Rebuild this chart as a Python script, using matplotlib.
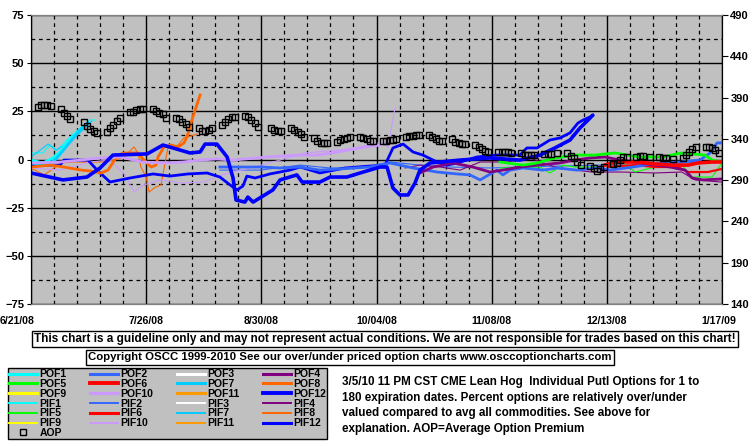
import matplotlib
matplotlib.use('Agg')
import matplotlib.pyplot as plt
import matplotlib.transforms as mtransforms
import numpy as np
import pandas as pd

# x axis: days after 6/21/08
tick_days = [0, 35, 70, 105, 140, 175, 210]
tick_labels = ['6/21/08', '7/26/08', '8/30/08', '10/04/08', '11/08/08', '12/13/08', '1/17/09']
start = pd.Timestamp('2008-06-21')

# average option premium (right axis), one value per trading day
holidays = ['2008-07-04', '2008-09-01', '2008-11-27', '2008-12-25', '2009-01-01']
aop_dates = pd.bdate_range('2008-06-23', '2009-01-16', freq='C', holidays=holidays)
aop = [379, 381, 381, 381, 380, 376, 371, 368, 364,
       360, 356, 352, 350, 347, 348, 353, 357, 362, 365,
       372, 372, 375, 376, 376, 376, 374, 371, 370, 365,
       365, 364, 360, 358, 354, 353, 350, 350, 351, 353,
       357, 360, 364, 366, 366, 368, 366, 363, 359, 354,
       353, 351, 350, 350, 353, 351, 348, 346, 342,
       341, 337, 335, 335, 335, 336, 339, 340, 341, 342,
       342, 341, 340, 337, 337, 337, 337, 339, 339, 340,
       342, 344, 344, 345, 345, 345, 342, 340, 337, 337,
       340, 336, 335, 334, 334, 333, 330, 328, 325, 324,
       324, 324, 324, 324, 323, 323, 320, 320, 320, 320,
       322, 322, 322, 323, 323, 319, 317, 312, 308, 307,
       305, 301, 304, 306, 310, 311, 314, 318, 318,
       318, 319, 319, 318, 318, 317, 317, 316, 317,
       320, 324, 328, 330, 330, 330, 329, 327, 323]

# percent over/under series (left axis): day, value
pof1_x = [0, 3.6, 6.7, 8.8, 10.9, 14, 16.4]
pof1_y = [-0.3, -1.8, 0.8, 3.9, 8.6, 13.8, 17.9]
pif1_x = [0, 3.6, 5.8, 7.9, 10.9, 14.9, 17.9, 19.5]
pif1_y = [3.4, 3.4, 7.5, 4.9, 10.1, 16.3, 20.5, 20.5]

pof2_x = [57.4, 70.2, 75.7, 81.8, 87.8, 93.9, 103, 109.1, 116.1, 123.4, 129.5, 133.4, 136.5, 138,
          141.6, 143.4, 145.6, 149.5, 155.6, 159.9, 165.9, 172, 176, 183, 189, 197.2, 203.3, 206.4, 208.5, 210]
pof2_y = [-3.9, -3.9, -4.4, -3.9, -5.5, -4.9, -3.9, -1.8, -4.4, -6.5, -7.5, -8.0, -10.6, -9.1,
          -5.5, -8.0, -5.5, -4.4, -5.5, -4.4, -5.5, -4.4, -5.5, -3.9, -2.3, -1.3, -0.3, 3.4, 8.6, 8.6]
pif2_x = [57.4, 69.6, 81.8, 90.9, 100, 109.1, 118.2, 127.3, 139.5, 148.6, 160.8, 172.9, 185.1, 197.2, 210]
pif2_y = [-5.5, -5.5, -2.9, -4.4, -4.4, -1.3, -2.9, -3.9, -4.4, -3.9, -3.4, -2.9, -2.9, -1.8, -1.3]

pof4_x = [118.2, 122.2, 128.2, 134.3, 139.5, 143.4, 148.6, 153.8, 160.8, 165.3, 169.9, 174.4, 179,
          185.1, 189.6, 194.2, 198.8, 200.9, 204.2, 210]
pof4_y = [-7.0, -3.9, -1.8, -3.9, -6.5, -5.5, -3.9, -2.9, -1.8, -0.3, 0.8, 1.3, -0.3,
          -1.8, -2.9, -3.9, -5.5, -9.6, -10.6, -10.1]
pif4_x = [113.7, 118.2, 124.3, 130.4, 136.5, 144.7, 151.6, 159.2, 165.3, 170.5, 179.6, 189.6, 197.8, 201.8, 210]
pif4_y = [-4.4, -2.9, -3.9, -5.5, -1.3, -1.3, 0.8, -3.9, -5.5, -6.5, -6.5, -7.0, -6.5, -10.6, -11.7]

pof5_x = [142.5, 149.5, 153.8, 159.2, 165.3, 171.4, 177.5, 184.5, 191.8, 197.8, 204.8, 207, 210]
pof5_y = [-1.3, -2.9, -1.8, 0.8, 2.3, 2.3, 3.4, 1.3, 1.3, 3.4, 2.3, -0.3, -1.3]
pif5_x = [142.5, 154.7, 157.7, 161.7, 165.3, 172.3, 179.6, 183.6, 189.6, 197.8, 200.9, 207, 210]
pif5_y = [-4.4, -3.9, -7.0, -2.9, -3.9, -3.9, -1.3, -6.5, -3.9, -2.9, -9.1, -9.1, -1.8]

pof6_x = [174.4, 176.6, 179.6, 184.5, 189.6, 194.8, 199.7, 202.7, 207, 210]
pof6_y = [-2.9, -1.8, -1.3, -1.3, -2.3, -2.9, -2.9, -1.8, -1.3, -1.3]
pif6_x = [175.4, 179, 183.6, 189.6, 196.6, 199.7, 205.7, 210]
pif6_y = [-3.9, -3.4, -2.9, -3.9, -3.9, -6.5, -6.5, -4.9]

pof7_x = [0, 4.3, 7.3, 9.4, 11.9, 14.9, 17.3]
pof7_y = [-1.8, -2.9, -0.3, 3.9, 9.1, 15.3, 18.9]
pif7_x = [0, 5.2, 7.6, 10.3, 13.4, 16.4, 18.5]
pif7_y = [1.3, 8.0, 4.9, 7.5, 11.7, 16.3, 20.0]

pof8_x = [0, 6.1, 10, 15.2, 18.2, 21.3, 23.4, 26.4, 28.3, 32.5, 34.3, 36.5, 38, 38.6, 40.4, 42.5,
          44.7, 46.5, 47.4, 49.2, 51.4]
pof8_y = [-3.9, -2.9, -3.9, -5.5, -6.0, -7.0, -5.5, 2.3, 3.4, 3.4, -0.3, -3.9, -2.9, 1.3, 6.5, 7.5,
          6.5, 8.6, 11.7, 22.1, 33.5]
pif8_x = [0, 4, 7, 9.1, 13.1, 21, 25.2, 28.3, 31.3, 32.5, 33.4, 35, 35.9, 37.4, 39.5, 41.6, 44.7,
          46.5, 48.6, 50.4]
pif8_y = [-4.4, -8.0, -4.4, -1.8, -1.3, -1.3, -0.3, 1.3, 6.5, 3.4, -3.9, -9.1, -16.9, -14.8, -13.2,
          6.0, 7.5, 11.2, 12.2, 13.2]

pof10_x = [0, 8.8, 14.9, 21, 27, 34, 41.3, 46.2, 51.4, 56.5, 61.4, 71.7, 81.8, 86.9, 93.3, 101.5, 106.1]
pof10_y = [-1.8, -1.3, -0.3, 0.8, 1.3, -1.3, -1.8, -1.3, -0.3, 0.3, -0.3, 1.3, 2.3, 2.3, 3.9, 6.5, 7.5]
pif10_x = [0, 8.8, 17.9, 24, 28.6, 31.3, 34.3, 39.5, 45.6, 52.6, 58, 66.6, 75.7, 83.3, 93.3, 98.5,
           105.5, 107.6, 108.5, 110.6]
pif10_y = [-4.4, -5.5, -1.3, -0.3, -8.0, -16.9, -13.2, -10.6, -12.2, -11.7, -8.0, -4.4, -0.3, 3.4, 4.9,
           6.0, 8.6, 9.1, 6.0, 26.7]

pof12_x = [0, 9.7, 17, 21, 24.9, 35.3, 40.1, 45.3, 48.3, 51.4, 52.9, 56.5, 59.6, 61.4, 62.3, 65, 65.9,
           67.5, 73.5, 75.7, 80.8, 82.4, 87.8, 90.9, 96, 100, 106.1, 108.2, 110, 112.1, 114.6, 116.7,
           118.2, 121.3, 130.4, 139.5, 148.6, 154.7, 159.2, 163.8, 166.8, 169.3, 170.5]
pof12_y = [-7.0, -10.6, -9.1, -4.4, 2.3, 2.9, 7.5, 4.9, 3.4, 3.9, 8.0, 8.0, 1.3, -9.6, -21.0, -22.1, -19.5,
           -22.1, -15.8, -10.6, -8.0, -11.7, -11.7, -9.1, -9.1, -7.0, -3.9, -3.9, -14.8, -18.4, -18.4, -12.2,
           -5.5, -1.8, -0.3, 0.8, -0.3, 2.3, 6.0, 10.1, 16.3, 20.5, 22.6]
pif12_x = [0, 8.8, 10, 17.3, 20.1, 24, 30.1, 37.1, 42.2, 47.7, 53.5, 57.4, 60.5, 62.6, 64.4, 65.6,
           68.1, 72.6, 78.7, 81.8, 87.8, 95.4, 103, 107.6, 110, 113.1, 116.1, 119.1, 123.4, 126.4,
           129.5, 135.5, 141.6, 148.6, 150.7, 153.8, 157.7, 160.8, 163.8, 166.2, 167.8, 169.9, 170.8]
pif12_y = [-2.9, -2.9, -0.3, -0.3, -5.5, -11.7, -9.6, -7.5, -8.6, -7.5, -7.0, -9.1, -13.2, -15.8, -13.8,
           -8.6, -9.6, -7.5, -5.5, -3.9, -7.0, -4.4, -3.4, -2.9, 6.0, 8.0, 3.9, 2.3, -1.3, -2.9,
           -1.8, 1.3, 2.3, 2.3, 6.0, 6.0, 10.1, 11.2, 13.8, 18.9, 20.5, 22.1, 23.1]

empty = []

colors = {1: '#00FFFF', 2: '#3366FF', 3: '#FFFFFF', 4: '#800080', 5: '#00FF00', 6: '#FF0000',
          7: '#00CCFF', 8: '#FF6600', 9: '#FFFF00', 10: '#CC99FF', 11: '#FF9900', 12: '#0000FF'}
pof_data = {1: (pof1_x, pof1_y), 2: (pof2_x, pof2_y), 3: (empty, empty), 4: (pof4_x, pof4_y),
            5: (pof5_x, pof5_y), 6: (pof6_x, pof6_y), 7: (pof7_x, pof7_y), 8: (pof8_x, pof8_y),
            9: (empty, empty), 10: (pof10_x, pof10_y), 11: (empty, empty), 12: (pof12_x, pof12_y)}
pif_data = {1: (pif1_x, pif1_y), 2: (pif2_x, pif2_y), 3: (empty, empty), 4: (pif4_x, pif4_y),
            5: (pif5_x, pif5_y), 6: (pif6_x, pif6_y), 7: (pif7_x, pif7_y), 8: (pif8_x, pif8_y),
            9: (empty, empty), 10: (pif10_x, pif10_y), 11: (empty, empty), 12: (pif12_x, pif12_y)}

plt.rcParams['font.family'] = ['Liberation Sans', 'DejaVu Sans']
plt.rcParams['font.weight'] = 'bold'

fig = plt.figure(figsize=(7.55, 4.46), dpi=100)
ax = fig.add_axes([31/755, 1-304/446, 691/755, 289/446])
ax.set_facecolor('#C0C0C0')

handles = {}
for k in range(1, 13):
    x, y = pif_data[k]
    lw = 2.0 if k == 12 else (1.6 if k == 6 else 0.8)
    handles['PIF%d' % k], = ax.plot(x, y, color=colors[k], lw=lw, zorder=3)
for k in range(1, 13):
    x, y = pof_data[k]
    lw = 2.6 if k in (6, 12) else 2.0
    handles['POF%d' % k], = ax.plot(x, y, color=colors[k], lw=lw, zorder=4)

ax.set_xlim(0, 210)
ax.set_ylim(-75, 75)
ax.set_xticks(tick_days, tick_labels)
ax.set_xticks(np.arange(0, 211, 7), minor=True)
ax.set_yticks(np.arange(-75, 76, 25))
ax.set_yticks(np.arange(-62.5, 63, 25), minor=True)
ax.grid(which='major', color='black', lw=1, ls='-', zorder=1)
ax.grid(which='minor', color='black', lw=0.9, ls=(0, (3, 3)), zorder=1)
ax.set_axisbelow(True)
ax.tick_params(which='minor', length=0)
ax.tick_params(axis='x', which='major', length=0, pad=9, labelsize=7.6)
ax.tick_params(axis='y', which='major', length=3, direction='out', pad=2, labelsize=8)

# keep the end date labels inside the picture, as the original does
xl = ax.get_xticklabels()
xl[0].set_transform(xl[0].get_transform() + mtransforms.ScaledTranslation(-14/100, 0, fig.dpi_scale_trans))
xl[-1].set_transform(xl[-1].get_transform() + mtransforms.ScaledTranslation(-3/100, 0, fig.dpi_scale_trans))

ax2 = ax.twinx()
aop_days = (aop_dates - start).days
handles['AOP'], = ax2.plot(aop_days, aop, ls='none', marker='s', ms=5, mfc='none', mec='black',
                           mew=1, zorder=5)
ax2.set_ylim(140, 490)
ax2.set_yticks(np.arange(140, 491, 50))
ax2.tick_params(axis='y', length=4, direction='out', pad=2, labelsize=8)

for a in (ax, ax2):
    a.spines['top'].set_color('#808080')
    a.spines['bottom'].set_color('#808080')
    a.spines['left'].set_color('black')
    a.spines['right'].set_color('black')

# legend, filled column by column (7, 6, 6, 6)
order = ['POF1', 'POF5', 'POF9', 'PIF1', 'PIF5', 'PIF9', 'AOP',
         'POF2', 'POF6', 'POF10', 'PIF2', 'PIF6', 'PIF10',
         'POF3', 'POF7', 'POF11', 'PIF3', 'PIF7', 'PIF11',
         'POF4', 'POF8', 'POF12', 'PIF4', 'PIF8', 'PIF12']
leg = fig.legend([handles[n] for n in order], order, ncol=4, loc='upper left',
                 bbox_to_anchor=(8/755, 1-368/446, 319/755, 0), mode='expand',
                 facecolor='#C0C0C0', edgecolor='black', framealpha=1, fancybox=False,
                 prop={'family': 'Liberation Sans', 'weight': 'bold', 'size': 7.5},
                 handlelength=2.7, handletextpad=0.2, labelspacing=-0.02, borderpad=0.12,
                 columnspacing=1.0, borderaxespad=0, numpoints=1)
leg.get_frame().set_linewidth(1)
for name, line in zip(order, leg.get_lines()):
    if name.startswith('PIF'):
        line.set_linewidth(2.2 if name in ('PIF6', 'PIF12') else 1.4)
    elif name.startswith('POF'):
        line.set_linewidth(2.8 if name in ('POF6', 'POF12') else 2.2)

box = dict(boxstyle='square,pad=0.2', fc='white', ec='black', lw=1)
fig.text(385/755, 1-339/446,
         'This chart is a guideline only and may not represent actual conditions. '
         'We are not responsible for trades based on this chart!',
         ha='center', va='center', fontsize=8.45, bbox=box)
fig.text(350/755, 1-357.5/446,
         'Copyright OSCC 1999-2010 See our over/under priced option charts www.osccoptioncharts.com',
         ha='center', va='center', fontsize=8.2, bbox=box)

note_lines = ['3/5/10 11 PM CST CME Lean Hog  Individual Putl Options for 1 to',
              '180 expiration dates. Percent options are relatively over/under',
              'valued compared to avg all commodities. See above for',
              'explanation. AOP=Average Option Premium']
for i, line in enumerate(note_lines):
    fig.text(342/755, 1-(382 + 15.7*i)/446, line, ha='left', va='center', fontsize=8.4)

fig.savefig('out.png', dpi=100, facecolor='white')
